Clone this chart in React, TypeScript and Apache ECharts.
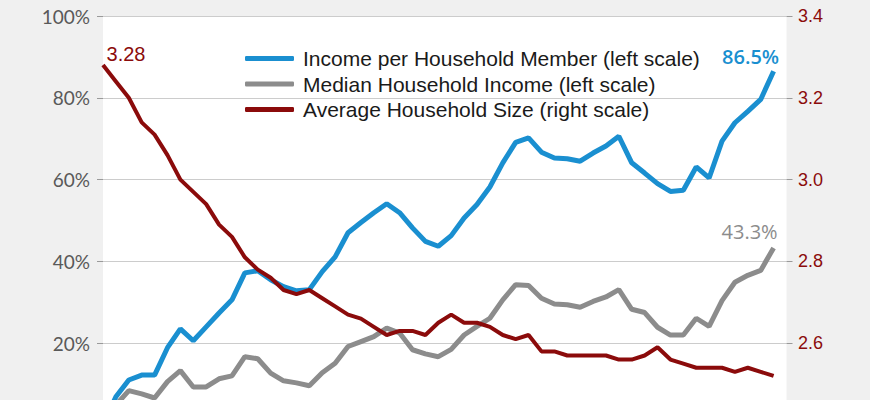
import { useEffect, useRef } from 'react';
import * as echarts from 'echarts';

// years on the axis, the last slot is left empty
const years = Array.from({ length: 54 }, (_, i) => String(1967 + i));

// cumulative growth since 1967, %
const incomePerMember = [
  0, 6.9, 11.0, 12.2, 12.2, 18.9, 23.5, 20.6, 24.0, 27.4,
  30.6, 37.2, 37.7, 35.5, 33.8, 32.8, 33.1, 37.5, 41.1, 47.0,
  49.5, 51.9, 54.1, 51.9, 48.2, 44.9, 43.7, 46.3, 50.6, 53.9,
  58.2, 64.1, 69.1, 70.2, 66.7, 65.3, 65.1, 64.5, 66.5, 68.2,
  70.6, 64.1, 61.6, 59.0, 57.1, 57.4, 63.1, 60.4, 69.4, 73.9,
  76.7, 79.6, 86.5,
];

const medianIncome = [
  0, 4.9, 8.4, 7.6, 6.6, 10.6, 13.3, 9.3, 9.3, 11.3,
  12.0, 16.7, 16.2, 12.7, 10.8, 10.3, 9.6, 12.8, 15.1, 19.2,
  20.4, 21.6, 23.7, 22.5, 18.4, 17.4, 16.7, 18.5, 22.0, 24.1,
  26.1, 30.6, 34.3, 34.1, 31.0, 29.6, 29.4, 28.8, 30.2, 31.3,
  33.1, 28.3, 27.5, 23.9, 22.0, 22.0, 26.1, 24.1, 30.4, 34.9,
  36.6, 37.8, 43.3,
];

// persons per household
const householdSize = [
  3.28, 3.24, 3.20, 3.14, 3.11, 3.06, 3.00, 2.97, 2.94, 2.89,
  2.86, 2.81, 2.78, 2.76, 2.73, 2.72, 2.73, 2.71, 2.69, 2.67,
  2.66, 2.64, 2.62, 2.63, 2.63, 2.62, 2.65, 2.67, 2.65, 2.65,
  2.64, 2.62, 2.61, 2.62, 2.58, 2.58, 2.57, 2.57, 2.57, 2.57,
  2.56, 2.56, 2.57, 2.59, 2.56, 2.55, 2.54, 2.54, 2.54, 2.53,
  2.54, 2.53, 2.52,
];

const BLUE = '#1a8fd0';
const GRAY = '#8c8c8c';
const RED = '#8b0b0b';

// a label-only marker pinned to one data point
function valueTag(x: number, y: number, text: string, label: any) {
  return {
    symbol: 'circle',
    symbolSize: 0,
    silent: true,
    data: [{ coord: [x, y], value: text }],
    label: { show: true, position: 'top', formatter: text, ...label },
  };
}

export default function App() {
  const chartRef = useRef<HTMLDivElement>(null);

  useEffect(() => {
    if (!chartRef.current) return;
    const chart = echarts.init(chartRef.current, null, { renderer: 'svg' });

    const last = incomePerMember.length - 1;

    const option: echarts.EChartsOption = {
      animation: false,
      backgroundColor: '#f0f0f0',
      grid: {
        left: 103,
        right: 83.5,
        top: 16,
        bottom: 45,
        show: true,
        backgroundColor: '#ffffff',
        borderWidth: 0,
      },
      legend: {
        orient: 'vertical',
        left: 240,
        top: 43,
        itemWidth: 49,
        itemHeight: 5,
        itemGap: 4.5,
        icon: 'roundRect',
        textStyle: {
          fontFamily: 'Liberation Sans, Arial, sans-serif',
          fontSize: 21,
          lineHeight: 21,
          color: '#1a1a1a',
          padding: [0, 0, 0, 4],
        },
        data: [
          'Income per Household Member (left scale)',
          'Median Household Income (left scale)',
          'Average Household Size (right scale)',
        ],
      },
      xAxis: {
        type: 'category',
        data: years,
        boundaryGap: false,
        axisLine: { show: false },
        axisTick: { show: false },
        axisLabel: { show: false },
        splitLine: { show: false },
      },
      yAxis: [
        {
          type: 'value',
          min: 0,
          max: 100,
          interval: 20,
          position: 'left',
          axisLine: { show: false },
          axisTick: { show: true, length: 6, lineStyle: { color: '#9a9a9a' } },
          axisLabel: {
            formatter: '{value}%',
            showMinLabel: false,
            margin: 13,
            fontFamily: 'Lato, sans-serif',
            fontSize: 19,
            color: '#595959',
          },
          splitLine: { show: true, lineStyle: { color: '#cccccc', width: 1 } },
        },
        {
          type: 'value',
          min: 2.4,
          max: 3.4,
          interval: 0.2,
          position: 'right',
          axisLine: { show: false },
          axisTick: { show: true, length: 6, lineStyle: { color: '#9a9a9a' } },
          axisLabel: {
            formatter: (v: number) => v.toFixed(1),
            showMinLabel: false,
            margin: 11.5,
            fontFamily: 'Liberation Sans, Arial, sans-serif',
            fontSize: 18,
            color: RED,
          },
          splitLine: { show: false },
        },
      ],
      series: [
        {
          name: 'Income per Household Member (left scale)',
          type: 'line',
          yAxisIndex: 0,
          showSymbol: false,
          symbol: 'none',
          lineStyle: { color: BLUE, width: 5 },
          itemStyle: { color: BLUE },
          z: 3,
          data: incomePerMember,
          markPoint: valueTag(last, incomePerMember[last], `${incomePerMember[last]}%`, {
            offset: [-23, 0],
            fontFamily: 'Open Sans, sans-serif',
            fontWeight: 600,
            fontSize: 20,
            color: BLUE,
          }),
        },
        {
          name: 'Median Household Income (left scale)',
          type: 'line',
          yAxisIndex: 0,
          showSymbol: false,
          symbol: 'none',
          lineStyle: { color: GRAY, width: 5 },
          itemStyle: { color: GRAY },
          z: 2,
          data: medianIncome,
          markPoint: valueTag(last, medianIncome[last], `${medianIncome[last]}%`, {
            offset: [-24, -1],
            fontFamily: 'Open Sans, sans-serif',
            fontSize: 20,
            color: GRAY,
          }),
        },
        {
          name: 'Average Household Size (right scale)',
          type: 'line',
          yAxisIndex: 1,
          showSymbol: false,
          symbol: 'none',
          lineStyle: { color: RED, width: 4 },
          itemStyle: { color: RED },
          z: 4,
          data: householdSize,
          markPoint: valueTag(0, householdSize[0], householdSize[0].toFixed(2), {
            offset: [23, 4],
            fontFamily: 'Liberation Sans, Arial, sans-serif',
            fontSize: 20,
            color: RED,
          }),
        },
      ],
    };

    chart.setOption(option);

    return () => {
      chart.dispose();
    };
  }, []);

  return (
    <div
      ref={chartRef}
      style={{ position: 'fixed', left: 0, top: 0, width: 870, height: 470 }}
    />
  );
}
